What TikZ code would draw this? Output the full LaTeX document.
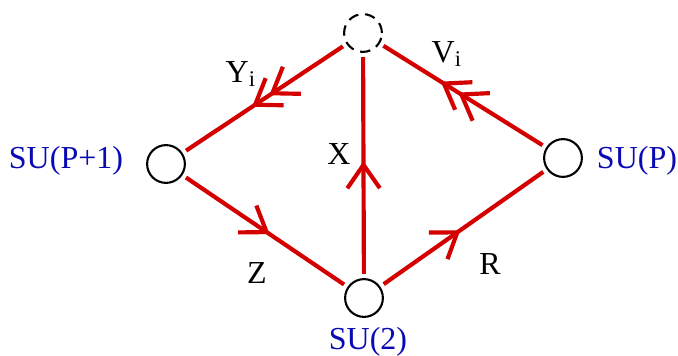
\documentclass[tikz,border=0pt]{standalone}
\usepackage{fontspec}
\setmainfont{Liberation Serif}
\usetikzlibrary{arrows.meta,decorations.markings}
\definecolor{linkred}{RGB}{212,0,0}
\definecolor{grpblue}{RGB}{10,10,180}

\begin{document}
\begin{tikzpicture}[x=0.0135cm,y=-0.0135cm,font=\fontsize{12.3}{14}\selectfont,
  grp/.style={circle,draw,line width=0.8pt,minimum size=0.51cm,inner sep=0pt,outer sep=2pt},
  ghost/.style={grp,dash pattern=on 4pt off 2.6pt},
  lnk/.style={linkred,line width=1.6pt},
  barb/.tip={Straight Barb[length=9pt,width=12.5pt]},
  midtip/.style={postaction={decorate},decoration={markings,
    mark=at position #1 with {\arrow{barb}}}},
  twotip/.style 2 args={postaction={decorate},decoration={markings,
    mark=at position #1 with {\arrow{barb}},
    mark=at position #2 with {\arrow{barb}}}},
  grplbl/.style={text=grpblue}]
  \useasboundingbox (0,0) rectangle (678,356);
  % gauge groups
  \node[ghost] (top) at (363,33) {};
  \node[grp] (left) at (166,164) {};
  \node[grp] (right) at (563,158) {};
  \node[grp] (bot) at (364,298) {};
  \node[grplbl] (nleft) at (66,161) {SU(P+1)};
  \node[grplbl] (nright) at (637,161) {SU(P)};
  \node[grplbl] (nbot) at (368,342) {SU(2)};
  % bifundamentals
  \draw[lnk,twotip={0.47}{0.58}] (top) -- (left);
  \draw[lnk,twotip={0.53}{0.64}] (right) -- (top);
  \draw[lnk,midtip=0.52] (bot) -- (top);
  \draw[lnk,midtip=0.53] (left) -- (bot);
  \draw[lnk,midtip=0.48] (bot) -- (right);
  \node (lblY) at (241,74) {Y\textsubscript{i}};
  \node (lblV) at (447,54) {V\textsubscript{i}};
  \node (lblX) at (339,154) {X};
  \node (lblZ) at (257,273) {Z};
  \node (lblR) at (490,264) {R};
\end{tikzpicture}
\end{document}
